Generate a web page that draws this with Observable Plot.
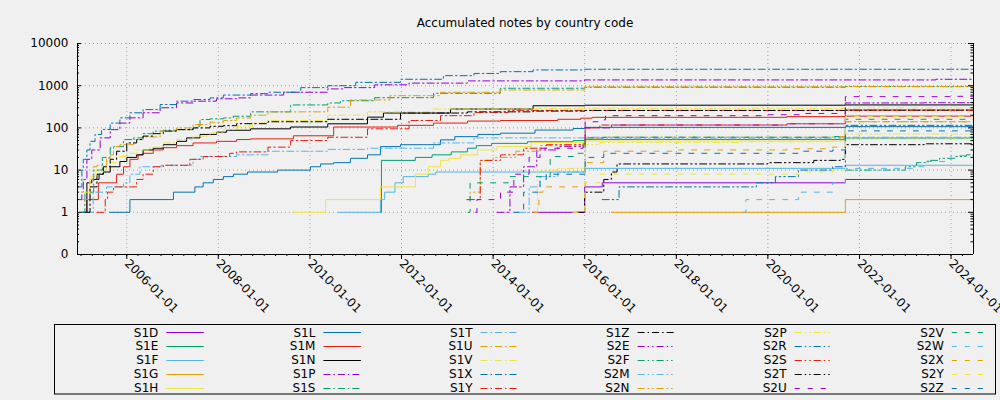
<!DOCTYPE html>
<html><head><meta charset="utf-8">
<script src="https://cdn.jsdelivr.net/npm/d3@7"></script>
<script src="https://cdn.jsdelivr.net/npm/@observablehq/plot@0.6"></script>
<style>
html,body{margin:0;padding:0;background:#f0f0f0;}
#wrap{position:relative;width:1000px;height:400px;font-family:"DejaVu Sans",sans-serif;}
#wrap svg{position:absolute;left:0;top:0;}
</style></head><body><div id="wrap"></div>
<script>
const titleText = "Accumulated notes by country code";
const seriesNames = ["S1D","S1E","S1F","S1G","S1H","S1L","S1M","S1N",
  "S1P","S1S","S1T","S1U","S1V","S1X","S1Y","S1Z",
  "S2E","S2F","S2M","S2N","S2P","S2R","S2S","S2T",
  "S2U","S2V","S2W","S2X","S2Y","S2Z"];
const palette = ["#9400d3","#009e73","#56b4e9","#e69f00","#f0e442","#0072b2","#e51e10","#000000"];
const dashStyles = [null, "7,3,1.5,3", "7,3,1.5,3,1.5,3", "5,8"];
const xDomain = ["2004-12-04","2024-06-28"];
const xTickDates = ["2006-01-01","2008-01-01","2010-01-01","2012-01-01","2014-01-01","2016-01-01","2018-01-01","2020-01-01","2022-01-01","2024-01-01"];
const yTickValues = [0.1,1,10,100,1000,10000];
const yTickLabels = ["0","1","10","100","1000","10000"];

// series: [date, accumulated count]
const s1D = [["2014-11-10",1],["2016-01-01",4],["2016-05-20",5],["2021-09-10",6],["2024-06-28",6]];
const s1E = [["2011-07-15",1],["2011-07-25",17],["2012-04-20",20],["2012-09-01",23],["2013-02-01",27],["2013-06-10",33],["2013-08-20",38],["2013-12-20",43],["2014-10-01",47],["2015-10-01",50],["2016-01-01",53],["2021-09-10",57],["2024-06-28",57]];
const s1F = [["2010-08-17",1],["2011-07-17",2],["2011-08-20",3],["2011-11-10",5],["2012-01-15",7],["2012-08-01",8],["2012-10-01",9],["2016-01-01",11],["2021-09-10",13],["2024-06-28",13]];
const s1G = [["2016-08-01",1],["2021-09-10",2],["2024-06-28",2]];
const s1H = [["2009-08-15",1],["2010-05-06",2],["2011-07-17",4],["2012-04-21",8],["2012-08-01",12],["2012-11-07",17],["2013-01-10",19],["2013-04-16",23],["2013-08-29",30],["2014-02-01",36],["2014-11-01",45],["2016-01-01",49],["2021-09-10",55],["2024-06-28",55]];
const s1L = [["2005-08-15",1],["2006-01-26",2],["2007-01-08",3],["2007-06-28",4],["2007-09-02",5],["2007-11-22",6],["2008-02-10",7],["2008-04-30",8],["2008-08-21",9],["2009-04-18",10],["2010-01-05",12],["2010-03-27",14],["2010-07-09",15],["2010-11-20",19],["2011-04-05",23],["2011-07-17",36],["2011-12-24",40],["2012-11-07",52],["2013-03-01",62],["2013-09-01",70],["2014-03-01",75],["2014-12-01",89],["2015-10-01",97],["2016-01-01",103],["2021-09-10",107],["2024-06-28",107]];
const s1M = [["2005-01-20",1],["2005-02-17",2],["2005-05-19",5],["2005-10-12",8],["2005-12-06",12],["2006-01-26",18],["2006-04-01",23],["2006-05-11",25],["2006-07-31",30],["2006-10-20",34],["2007-02-02",38],["2007-06-14",44],["2007-12-17",48],["2008-05-26",53],["2008-09-15",55],["2009-08-22",65],["2010-07-09",105],["2011-12-01",115],["2012-09-13",130],["2013-06-10",145],["2014-03-01",150],["2015-06-01",160],["2015-12-01",170],["2016-03-01",178],["2020-06-01",185],["2021-09-10",190],["2024-06-28",190]];
const s1N = [["2005-01-05",1],["2005-02-17",5],["2005-03-28",6],["2005-05-08",8],["2005-06-28",9],["2005-08-22",12],["2005-11-07",16],["2006-01-01",20],["2006-03-21",23],["2006-05-11",30],["2006-07-31",33],["2006-10-20",40],["2007-02-02",48],["2007-04-23",58],["2007-08-08",70],["2007-12-17",79],["2008-03-07",88],["2008-09-15",95],["2009-07-31",105],["2010-05-23",125],["2011-04-05",180],["2011-08-10",225],["2013-01-26",280],["2014-11-15",335],["2016-01-01",345],["2021-09-10",350],["2024-06-28",352]];
const s1P = [["2004-12-20",2],["2005-01-08",3],["2005-01-19",6],["2005-02-17",18],["2005-03-28",30],["2005-06-03",58],["2005-08-22",91],["2005-11-07",130],["2006-01-26",173],["2006-05-11",228],["2006-09-24",300],["2007-02-02",390],["2007-06-14",430],["2007-12-17",490],["2008-05-26",515],["2008-09-15",600],["2009-06-05",700],["2010-05-23",840],["2010-10-01",900],["2011-06-01",1050],["2012-03-01",1150],["2013-06-10",1300],["2016-01-01",1370],["2023-09-01",1420],["2024-06-28",1420]];
const s1S = [["2005-01-05",1],["2005-02-01",3],["2005-04-12",10],["2005-06-20",20],["2005-08-22",34],["2005-09-17",36],["2005-12-06",53],["2006-02-24",58],["2006-05-11",73],["2006-07-31",84],["2006-10-20",88],["2007-02-02",91],["2007-06-14",100],["2007-07-13",110],["2007-08-08",158],["2007-10-27",164],["2008-02-10",172],["2008-04-30",189],["2008-09-15",240],["2009-07-31",350],["2010-05-23",390],["2010-09-01",440],["2011-06-01",520],["2012-09-13",660],["2014-02-27",870],["2016-01-01",920],["2021-09-10",950],["2024-06-28",950]];
const s1T = [["2005-02-17",1],["2005-04-08",3],["2005-07-24",4],["2005-12-06",5],["2006-01-26",8],["2006-04-16",12],["2006-10-01",13],["2007-06-14",18],["2007-08-08",21],["2008-05-26",23],["2009-01-31",28],["2010-05-23",31],["2011-04-05",33],["2012-09-13",44],["2013-08-01",58],["2016-01-01",60],["2024-06-28",60]];
const s1U = [["2005-01-10",2],["2005-03-14",6],["2005-04-08",12],["2005-05-08",13],["2005-07-24",19],["2005-08-22",23],["2005-09-17",36],["2005-11-07",40],["2006-02-24",53],["2006-05-11",61],["2006-09-24",84],["2007-02-02",100],["2007-06-14",120],["2007-10-27",136],["2008-02-10",150],["2008-05-26",172],["2008-09-15",200],["2009-01-31",240],["2010-05-23",310],["2010-11-20",460],["2011-10-01",580],["2012-11-07",700],["2014-02-27",790],["2016-01-01",940],["2021-09-10",960],["2024-06-28",960]];
const s1V = [["2005-01-10",3],["2005-03-14",7],["2005-05-01",10],["2005-07-24",15],["2005-10-12",21],["2006-01-01",25],["2006-03-21",30],["2006-07-05",35],["2006-10-20",44],["2007-02-02",53],["2007-06-14",64],["2007-10-27",76],["2008-02-10",91],["2008-05-26",109],["2008-10-01",130],["2009-01-31",150],["2010-05-23",200],["2011-04-05",240],["2012-09-13",280],["2014-11-15",290],["2021-09-10",300],["2024-06-28",300]];
const s1X = [["2004-12-10",4],["2005-01-08",10],["2005-01-19",18],["2005-02-17",30],["2005-03-14",48],["2005-04-23",70],["2005-06-14",92],["2005-08-22",130],["2005-11-07",173],["2006-01-26",228],["2006-05-11",272],["2006-09-24",357],["2007-02-02",430],["2007-06-14",470],["2007-10-27",515],["2008-02-10",600],["2008-09-15",650],["2009-01-31",700],["2009-10-19",900],["2010-05-23",1000],["2011-01-01",1200],["2011-12-24",1420],["2012-12-01",1730],["2013-08-01",1950],["2014-02-27",2150],["2014-11-15",2360],["2016-01-01",2450],["2024-06-28",2450]];
const s1Y = [["2005-05-08",1],["2005-07-13",2],["2005-08-01",3],["2005-09-17",4],["2006-03-21",6],["2006-05-11",8],["2006-07-31",12],["2006-10-20",13],["2007-05-19",18],["2007-09-02",21],["2008-04-01",25],["2008-05-26",27],["2009-01-31",35],["2009-07-31",50],["2010-05-23",60],["2011-04-05",95],["2012-03-01",150],["2012-11-07",195],["2013-08-01",230],["2014-05-01",260],["2021-09-10",265],["2024-06-28",265]];
const s1Z = [["2005-02-17",1],["2005-03-14",4],["2005-05-08",6],["2005-05-25",8],["2005-06-28",12],["2005-08-22",18],["2005-10-12",28],["2006-01-01",44],["2006-03-21",53],["2006-05-11",64],["2006-07-31",73],["2006-10-20",84],["2007-02-02",91],["2007-06-14",100],["2007-10-27",109],["2008-02-10",113],["2008-05-26",126],["2009-01-31",140],["2010-05-23",160],["2011-12-24",225],["2013-06-10",240],["2014-11-15",250],["2016-01-01",258],["2021-09-10",262],["2024-06-28",262]];
const s2E = [["2014-02-01",1],["2014-05-15",4],["2014-09-01",12],["2014-12-15",30],["2015-06-01",36],["2015-12-20",39],["2016-01-05",100],["2016-08-01",117],["2020-06-01",125],["2021-09-10",390],["2023-06-01",395],["2024-06-28",400]];
const s2F = [["2021-09-10",10],["2023-01-01",12],["2023-04-01",15],["2023-07-01",17],["2023-10-01",19],["2024-02-01",21],["2024-05-01",23],["2024-06-28",23]];
const s2M = [["2014-07-15",1],["2014-10-15",4],["2015-01-10",7],["2015-06-01",9],["2016-01-05",55],["2021-09-10",57],["2024-06-28",57]];
const s2N = [["2013-06-01",2],["2013-07-01",3],["2013-09-20",17],["2014-01-01",20],["2014-07-01",28],["2015-01-10",38],["2015-12-20",40],["2016-01-05",58],["2016-06-01",60],["2021-06-01",62],["2021-09-10",140],["2024-06-28",142]];
const s2P = [["2014-12-01",1],["2014-12-20",10],["2015-06-01",11],["2015-12-20",12],["2016-01-05",40],["2016-05-01",45],["2019-06-01",47],["2021-06-01",48],["2021-09-10",72],["2024-06-28",75]];
const s2R = [["2016-05-20",2],["2016-10-01",4],["2019-07-15",4],["2019-10-01",5],["2020-03-01",7],["2020-09-01",10],["2021-06-01",12],["2021-09-10",115],["2024-06-28",118]];
const s2S = [["2013-06-10",2],["2013-09-20",17],["2014-03-01",23],["2014-09-01",33],["2015-03-01",40],["2015-12-20",42],["2016-01-05",100],["2016-05-01",117],["2020-06-01",125],["2021-09-10",265],["2024-06-28",268]];
const s2T = [["2015-11-01",1],["2016-01-01",3],["2016-06-01",6],["2016-08-01",9],["2016-09-15",14],["2020-01-01",15],["2021-01-01",17],["2021-08-01",18],["2021-09-10",40],["2023-06-01",42],["2024-06-28",44]];
const s2U = [["2013-08-15",1],["2013-08-25",2],["2014-03-01",3],["2014-06-15",8],["2014-10-15",20],["2015-01-10",33],["2015-12-20",42],["2016-01-05",140],["2016-04-15",155],["2016-06-15",195],["2020-01-01",205],["2020-10-01",220],["2021-09-10",550],["2024-01-01",560],["2024-06-28",560]];
const s2V = [["2013-06-15",1],["2013-07-01",5],["2014-05-01",7],["2015-04-01",21],["2015-11-01",25],["2016-01-05",58],["2016-06-01",60],["2021-06-01",62],["2021-09-10",160],["2024-06-28",165]];
const s2W = [["2019-06-20",1],["2019-07-10",2],["2020-09-01",3],["2021-06-01",5],["2021-09-10",11],["2023-03-01",12],["2023-06-01",16],["2024-01-01",22],["2024-06-28",27]];
const s2X = [["2014-11-15",1],["2015-01-01",3],["2015-02-01",4],["2016-01-05",15],["2016-06-01",28],["2018-01-01",30],["2020-06-01",32],["2021-06-01",35],["2021-09-10",140],["2024-06-28",142]];
const s2Y = [["2015-10-01",1],["2016-01-01",5],["2016-05-01",8],["2020-09-01",9],["2021-06-01",10],["2021-09-10",185],["2024-06-28",185]];
const s2Z = [["2014-06-15",1],["2014-09-01",3],["2015-01-10",6],["2015-03-01",8],["2016-01-05",20],["2016-06-01",25],["2020-09-01",28],["2021-06-01",30],["2021-09-10",85],["2024-06-28",88]];

const seriesData = [s1D,s1E,s1F,s1G,s1H,s1L,s1M,s1N,s1P,s1S,s1T,s1U,s1V,s1X,s1Y,s1Z,
  s2E,s2F,s2M,s2N,s2P,s2R,s2S,s2T,s2U,s2V,s2W,s2X,s2Y,s2Z];

const parse = d3.utcParse("%Y-%m-%d");
const x0 = parse(xDomain[0]), x1 = parse(xDomain[1]);
const colorOf = i => palette[i % 8];
const dashOf = i => dashStyles[Math.floor(i / 8)];

const rows = seriesData.map((arr, i) => arr.map(([d, v]) => ({name: seriesNames[i], date: parse(d), value: v})));
const majorX = xTickDates.map(parse);
const minorX = d3.utcMonth.every(3).range(x0, x1);
const minorY = [];
for (const dec of [0.1, 1, 10, 100, 1000]) for (let m = 2; m <= 9; m++) minorY.push(dec * m);

const lineMarks = rows.map((r, i) => Plot.line(r, {
  x: "date", y: "value", curve: "step-after",
  stroke: colorOf(i), strokeWidth: 1,
  strokeDasharray: dashOf(i) || undefined
}));

const chart = Plot.plot({
  width: 1000, height: 400,
  marginTop: 43, marginLeft: 77, marginRight: 27, marginBottom: 146,
  style: {background: "transparent", fontFamily: "DejaVu Sans, sans-serif", fontSize: "12px", color: "#000", overflow: "visible"},
  x: {type: "utc", domain: [x0, x1], axis: null},
  y: {type: "log", domain: [0.1, 10000], axis: null},
  marks: [
    Plot.gridX(majorX, {stroke: "#a0a0a0", strokeOpacity: 1, strokeDasharray: "1,3"}),
    Plot.gridY(yTickValues, {stroke: "#a0a0a0", strokeOpacity: 1, strokeDasharray: "1,3"}),
    ...lineMarks,
    Plot.ruleX([x0, x1], {stroke: "#000"}),
    Plot.ruleY([0.1], {stroke: "#000"}),
    Plot.ruleY(yTickValues, {y: d => d, x1: () => x0, x2: () => x0, insetRight: -4, stroke: "#000"}),
    Plot.ruleY(minorY, {y: d => d, x1: () => x0, x2: () => x0, insetRight: -2, stroke: "#000"}),
    Plot.ruleY(yTickValues, {y: d => d, x1: () => x1, x2: () => x1, insetLeft: -5, stroke: "#000"}),
    Plot.ruleY(minorY, {y: d => d, x1: () => x1, x2: () => x1, insetLeft: -2.5, stroke: "#000"}),
    Plot.ruleX(minorX, {x: d => d, y1: () => 0.1, y2: () => 0.1, insetBottom: -2, stroke: "#000"}),
    Plot.axisY({ticks: yTickValues, tickFormat: d => yTickLabels[yTickValues.indexOf(d)], tickSize: 0, tickPadding: 9, anchor: "left", label: null, fontSize: 12}),
    Plot.axisX({ticks: majorX, tickFormat: d3.utcFormat("%Y-%m-%d"), tickRotate: 45, tickSize: 5, tickPadding: 2, lineAnchor: "middle", anchor: "bottom", label: null, fontSize: 12})
  ]
});
document.getElementById("wrap").appendChild(chart);

const ov = d3.select("#wrap").append("svg")
  .attr("width", 1000).attr("height", 400)
  .style("font-family", "DejaVu Sans, sans-serif").style("font-size", "12px")
  .style("pointer-events", "none");
ov.append("text").attr("x", 525).attr("y", 27.3).attr("text-anchor", "middle").attr("fill", "#000").text(titleText);
ov.append("rect").attr("x", 54.5).attr("y", 324.5).attr("width", 941).attr("height", 69.5)
  .attr("fill", "none").attr("stroke", "#000").attr("stroke-width", 1);
seriesNames.forEach((n, i) => {
  const c = Math.floor(i / 5), r = i % 5;
  const xe = 158.3 + c * 157.1;
  const y = 332.3 + r * 13.85;
  ov.append("text").attr("x", xe).attr("y", y).attr("dy", "0.35em").attr("text-anchor", "end").attr("fill", "#000").text(n);
  const ln = ov.append("line").attr("x1", xe + 8).attr("x2", xe + 45.5).attr("y1", Math.round(y) + 0.5).attr("y2", Math.round(y) + 0.5)
    .attr("stroke", colorOf(i)).attr("stroke-width", 1);
  if (dashOf(i)) ln.attr("stroke-dasharray", dashOf(i));
});
</script></body></html>
